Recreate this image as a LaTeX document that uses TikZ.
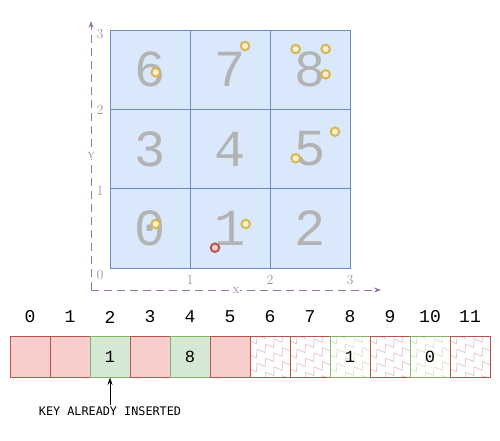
\documentclass[tikz,border=0pt]{standalone}
\usepackage{fontspec}
\usetikzlibrary{arrows.meta,decorations.pathmorphing}
\newfontfamily\monof{Liberation Mono}
\newfontfamily\sansmono{DejaVu Sans Mono}
\definecolor{cellfill}{HTML}{DAE8FC}
\definecolor{cellline}{HTML}{6C8EBF}
\definecolor{redfill}{HTML}{F8CECC}
\definecolor{redline}{HTML}{B85450}
\definecolor{greenfill}{HTML}{D5E8D4}
\definecolor{greenline}{HTML}{82B366}
\definecolor{yfill}{HTML}{FFF2CC}
\definecolor{yline}{HTML}{D6B656}
\definecolor{axiscol}{HTML}{9673A6}
\definecolor{digit}{HTML}{B3B3B3}
\definecolor{tickcol}{HTML}{999999}
\pgfdeclarelayer{bg}
\pgfsetlayers{bg,main}
\begin{document}
\begin{tikzpicture}[x=1pt,y=-1pt,
 gcell/.style={draw=cellline,fill=cellfill,line width=0.9pt,minimum width=80pt,minimum height=79.33pt,inner sep=0pt,text=digit,font=\monof\fontsize{52}{52}\selectfont},
 pt/.style={circle,draw=yline,fill=yfill,line width=2pt,minimum size=8.5pt,inner sep=0pt},
 ptred/.style={pt,draw=redline,fill=redfill},
 acell/.style={minimum width=40pt,minimum height=40.6pt,inner sep=0pt,line width=0.9pt,font=\monof\fontsize{17}{17}\selectfont},
 redc/.style={acell,draw=redline,fill=redfill},
 greenc/.style={acell,draw=greenline,fill=greenfill},
 redz/.style={acell,draw=redline},
 greenz/.style={acell,draw=greenline},
 idx/.style={font=\monof\fontsize{18}{18}\selectfont,inner sep=0pt},
 tick/.style={text=tickcol,font=\fontsize{14}{14}\selectfont,inner sep=0pt},
 axisline/.style={draw=axiscol,line width=0.9pt,dash pattern=on 8pt off 5pt,-{Stealth[length=7pt,width=5pt]}},
 axlabel/.style={text=axiscol,font=\fontsize{9}{9}\selectfont,fill=white,inner sep=1pt}
]
\useasboundingbox (0,0) rectangle (500,440);

% axes
\coordinate (O) at (91,290);
\coordinate (ytip) at (91,21);
\coordinate (xtip) at (381,290);
\draw[axisline] (O) -- (ytip);
\draw[axisline] (O) -- (xtip);
\node[axlabel] (ylab) at (91,155) {Y};
\node[axlabel] (xlab) at (236,290) {X};

% grid cells
\node[gcell] (c0) at (150,228.3) {0};
\node[gcell] (c1) at (230,228.3) {1};
\node[gcell] (c2) at (310,228.3) {2};
\node[gcell] (c3) at (150,149) {3};
\node[gcell] (c4) at (230,149) {4};
\node[gcell] (c5) at (310,149) {5};
\node[gcell] (c6) at (150,69.7) {6};
\node[gcell] (c7) at (230,69.7) {7};
\node[gcell] (c8) at (310,69.7) {8};

% tick labels
\node[tick] (ty3) at (100,33.5) {3};
\node[tick] (ty2) at (100,110) {2};
\node[tick] (ty1) at (100,191) {1};
\node[tick] (ty0) at (100,275) {0};
\node[tick] (tx1) at (190,280) {1};
\node[tick] (tx2) at (270,280) {2};
\node[tick] (tx3) at (350,280) {3};

% points
\node[pt] (p1) at (155.7,72.3) {};
\node[pt] (p2) at (245,46) {};
\node[pt] (p3) at (295.7,49) {};
\node[pt] (p4) at (325.7,49) {};
\node[pt] (p5) at (325.7,74.3) {};
\node[pt] (p6) at (335,131.7) {};
\node[pt] (p7) at (295.7,158.3) {};
\node[pt] (p8) at (155.7,224) {};
\node[pt] (p9) at (245.7,224) {};
\node[ptred] (q) at (215,247.7) {};

% array indices
\foreach \i in {0,...,11}{
  \node[idx] (i\i) at (30+40*\i,317) {\i};
}
% array cells
\node[redc] (a0) at (30,357) {};
\node[redc] (a1) at (70,357) {};
\node[greenc] (a2) at (110,357) {1};
\node[redc] (a3) at (150,357) {};
\node[greenc] (a4) at (190,357) {8};
\node[redc] (a5) at (230,357) {};
\node[redz] (a6) at (270,357) {};
\node[redz] (a7) at (310,357) {};
\node[greenz] (a8) at (350,357) {1};
\node[redz] (a9) at (390,357) {};
\node[greenz] (a10) at (430,357) {0};
\node[redz] (a11) at (470,357) {};

\begin{pgfonlayer}{bg}
\foreach \n/\c in {a6/redline,a7/redline,a8/greenline,a9/redline,a10/greenline,a11/redline}{
  \fill[white] (\n.south west) rectangle (\n.north east);
  \begin{scope}
    \clip (\n.south west) rectangle (\n.north east);
    \foreach \k in {-3,...,3}{
      \draw[\c!35,line width=0.7pt,decorate,decoration={zigzag,segment length=10pt,amplitude=3.5pt}]
        ([shift={(-10,14*\k)}]\n.south west) -- ++(60,-36);
    }
  \end{scope}
}
\end{pgfonlayer}

% annotation
\node[font=\sansmono\fontsize{11.8}{12}\selectfont,inner sep=1pt] (key) at (110,411) {KEY ALREADY INSERTED};
\draw[-{Stealth[length=7pt,width=5pt]},line width=0.8pt] (key.north) -- (a2.south);
\end{tikzpicture}
\end{document}
